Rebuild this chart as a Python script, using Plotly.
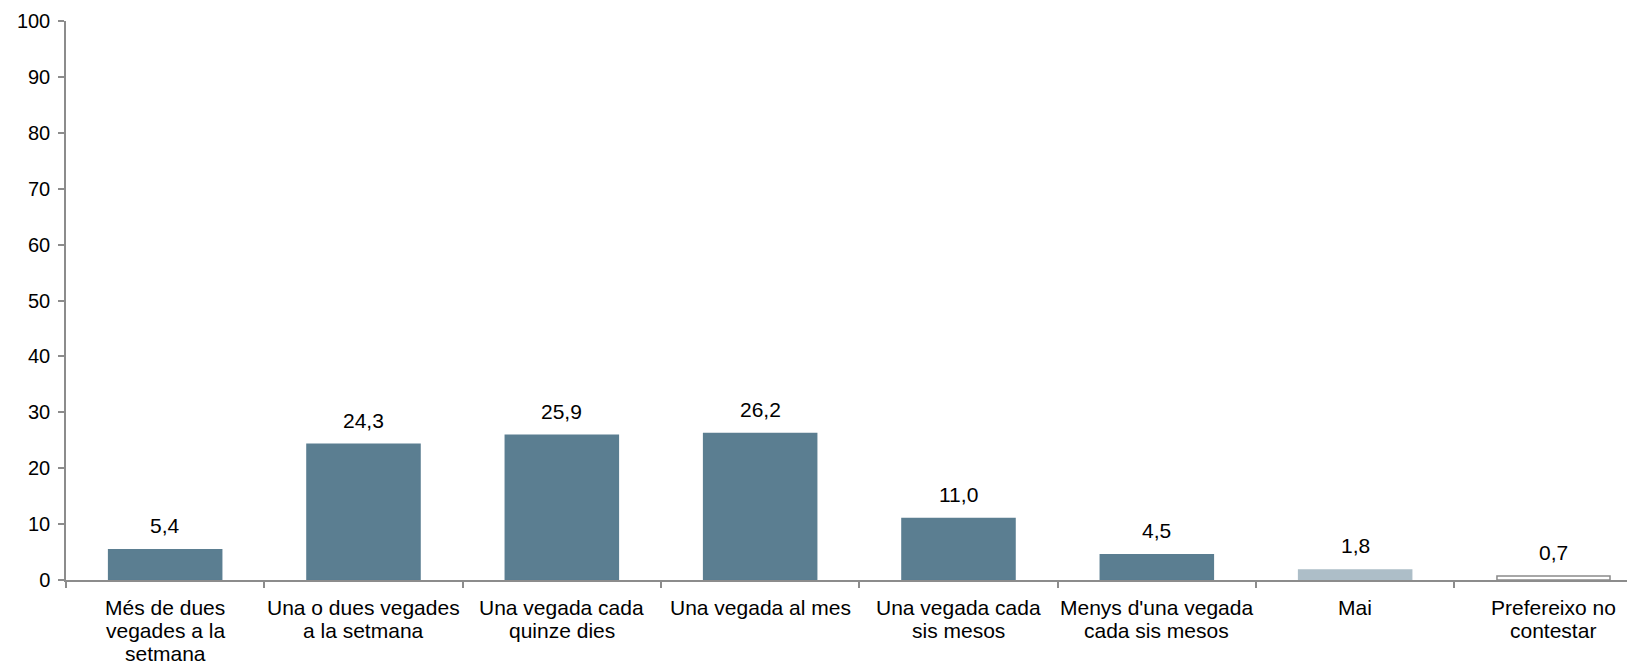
import plotly.graph_objects as go

categories = [
    "Més de dues<br>vegades a la<br>setmana",
    "Una o dues vegades<br>a la setmana",
    "Una vegada cada<br>quinze dies",
    "Una vegada al mes",
    "Una vegada cada<br>sis mesos",
    "Menys d'una vegada<br>cada sis mesos",
    "Mai",
    "Prefereixo no<br>contestar",
]
values = [5.4, 24.3, 25.9, 26.2, 11.0, 4.5, 1.8, 0.7]
fill_colors = ["#5b7e91"] * 6 + ["#adbec8", "#ffffff"]
line_colors = ["#5b7e91"] * 6 + ["#adbec8", "#8a8a8a"]
y_ticks = [0, 10, 20, 30, 40, 50, 60, 70, 80, 90, 100]

FONT = "Liberation Sans, Arial, sans-serif"
AXIS = "#8c8c8c"
FS = 21

x_idx = list(range(len(categories)))

fig = go.Figure()
fig.add_trace(go.Bar(
    x=x_idx,
    y=values,
    width=0.57,
    marker=dict(color=fill_colors, line=dict(color=line_colors, width=1.5)),
    hoverinfo="skip",
))

annotations = []
for i, v in enumerate(values):
    annotations.append(dict(
        x=i, y=v, xref="x", yref="y",
        text=f"{v:.1f}".replace(".", ","),
        showarrow=False, yanchor="middle", yshift=24,
        font=dict(family=FONT, size=FS, color="#000000"),
    ))
    for j, line in enumerate(categories[i].split("<br>")):
        annotations.append(dict(
            x=i, y=0, xref="x", yref="paper",
            text=line, showarrow=False, yanchor="middle",
            yshift=-(27 + 23 * j),
            font=dict(family=FONT, size=FS, color="#000000"),
        ))

# page body has an 8px margin, so the figure is sized to fit the window
fig.update_layout(
    width=1627, height=655,
    margin=dict(l=58, r=0, t=13, b=83),
    paper_bgcolor="#ffffff", plot_bgcolor="#ffffff",
    showlegend=False,
    font=dict(family=FONT, size=FS, color="#000000"),
    annotations=annotations,
)
fig.update_xaxes(
    type="linear",
    range=[-0.5, 7.411],
    tickmode="array",
    tickvals=[k - 0.5 for k in range(len(categories) + 1)],
    showticklabels=False,
    ticks="outside", ticklen=6, tickwidth=1.5, tickcolor=AXIS,
    showline=True, linecolor=AXIS, linewidth=1.5,
    showgrid=False, zeroline=False, fixedrange=True,
)
fig.update_yaxes(
    range=[0, 100],
    tickmode="array", tickvals=y_ticks,
    ticktext=[str(t) for t in y_ticks],
    ticks="outside", ticklen=6, tickwidth=1.5, tickcolor=AXIS,
    showline=True, linecolor=AXIS, linewidth=1.5,
    showgrid=False, zeroline=False,
    ticklabelstandoff=4,
    tickfont=dict(family=FONT, size=20, color="#000000"),
    fixedrange=True,
)

fig.write_html("out.html")
